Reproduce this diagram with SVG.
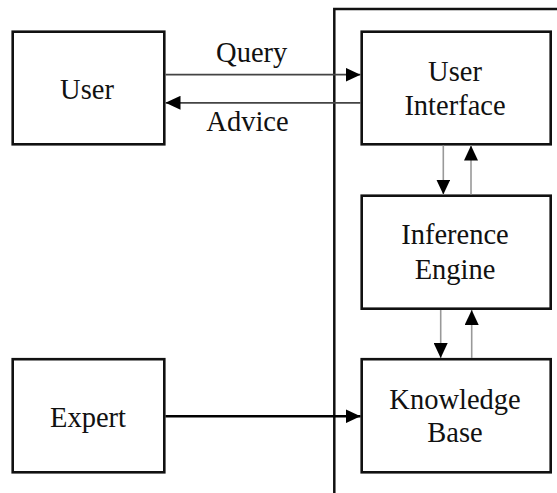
<svg xmlns="http://www.w3.org/2000/svg" width="557" height="493" viewBox="0 0 557 493">
  <style>
    .box { fill: #fff; stroke: #111; stroke-width: 2.6; }
    .lbl { font-family: 'Liberation Serif', 'Times New Roman', serif; font-size: 28.5px; fill: #111; text-anchor: middle; }
    .flow { stroke: #444; stroke-width: 1.8; fill: none; }
    .feed { stroke: #000; stroke-width: 2.5; fill: none; }
    .thin { stroke: #999; stroke-width: 1.6; fill: none; }
    .frame { stroke: #111; stroke-width: 2.5; fill: none; }
  </style>
  <defs>
    <marker id="head" markerWidth="15" markerHeight="14" refX="15" refY="7" orient="auto" markerUnits="userSpaceOnUse">
      <path d="M0,0 L15,7 L0,14 Z" fill="#000"/>
    </marker>
  </defs>

  <!-- system boundary -->
  <path class="frame" d="M334.3,493 V9 H557"/>

  <g id="user">
    <rect class="box" x="12.7" y="31.7" width="151.6" height="112.6"/>
    <text class="lbl" x="87" y="99">User</text>
  </g>
  <g id="user-interface">
    <rect class="box" x="361.7" y="31.7" width="189" height="112.6"/>
    <text class="lbl" x="455" y="81">User</text>
    <text class="lbl" x="455" y="115">Interface</text>
  </g>
  <g id="inference-engine">
    <rect class="box" x="361.7" y="195.7" width="189" height="113"/>
    <text class="lbl" x="455" y="244.3">Inference</text>
    <text class="lbl" x="455" y="279.3">Engine</text>
  </g>
  <g id="expert">
    <rect class="box" x="12.7" y="359.2" width="151.6" height="113.1"/>
    <text class="lbl" x="88" y="427.3">Expert</text>
  </g>
  <g id="knowledge-base">
    <rect class="box" x="361.7" y="359.2" width="189" height="113.1"/>
    <text class="lbl" x="455" y="409.3">Knowledge</text>
    <text class="lbl" x="455" y="441.7">Base</text>
  </g>

  <g id="connectors">
    <line class="flow" x1="165.5" y1="74.7" x2="360.5" y2="74.7" marker-end="url(#head)"/>
    <text class="lbl" x="251.7" y="62.3">Query</text>
    <line class="flow" x1="360.5" y1="102.8" x2="165.5" y2="102.8" marker-end="url(#head)"/>
    <text class="lbl" x="247.5" y="130.7">Advice</text>

    <line class="thin" x1="443.3" y1="145.5" x2="443.3" y2="194.5" marker-end="url(#head)"/>
    <line class="thin" x1="471" y1="194.5" x2="471" y2="145.5" marker-end="url(#head)"/>

    <line class="thin" x1="440.7" y1="310" x2="440.7" y2="358" marker-end="url(#head)"/>
    <line class="thin" x1="471.7" y1="358" x2="471.7" y2="310" marker-end="url(#head)"/>

    <line class="feed" x1="165.5" y1="416.3" x2="360.5" y2="416.3" marker-end="url(#head)"/>
  </g>
</svg>
